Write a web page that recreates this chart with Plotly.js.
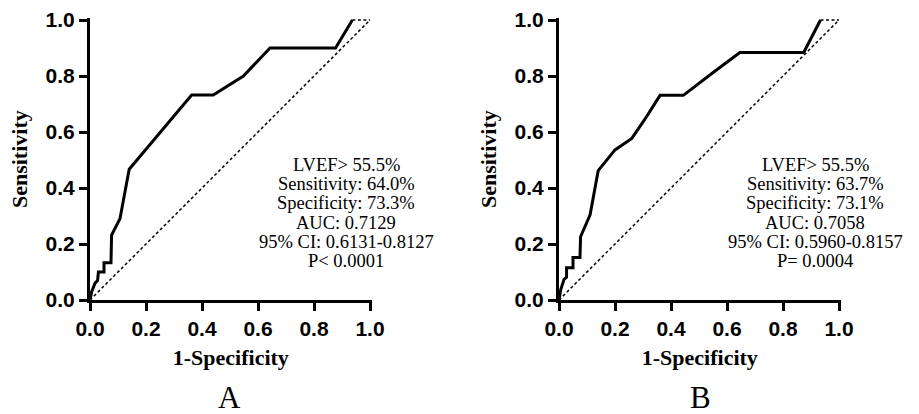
<!DOCTYPE html>
<html>
<head>
<meta charset="utf-8">
<script src="https://cdn.plot.ly/plotly-3.0.1.min.js"></script>
<style>html,body{margin:0;padding:0;background:#fff;}#chart{width:919px;height:414px;}</style>
</head>
<body>
<div id="chart"></div>
<script>
// Panel A ROC curve
const A_fpr = [0, 0.006, 0.018, 0.027, 0.030, 0.050, 0.050, 0.075, 0.077, 0.107, 0.140, 0.200, 0.289, 0.363, 0.440, 0.548, 0.643, 0.877, 0.937];
const A_tpr = [0, 0.030, 0.060, 0.069, 0.100, 0.100, 0.133, 0.133, 0.232, 0.290, 0.467, 0.538, 0.643, 0.732, 0.732, 0.800, 0.900, 0.900, 1.000];
const A_tail_fpr = [0.937, 1.0];
const A_tail_tpr = [1.0, 1.0];
// Panel B ROC curve
const B_fpr = [0, 0.006, 0.018, 0.027, 0.027, 0.050, 0.050, 0.075, 0.077, 0.111, 0.140, 0.200, 0.260, 0.305, 0.361, 0.444, 0.554, 0.646, 0.874, 0.934];
const B_tpr = [0, 0.036, 0.074, 0.081, 0.115, 0.115, 0.152, 0.152, 0.226, 0.304, 0.462, 0.536, 0.577, 0.643, 0.731, 0.731, 0.815, 0.884, 0.884, 1.000];
const B_tail_fpr = [0.934, 1.0];
const B_tail_tpr = [1.0, 1.0];
// Reference diagonal
const diag = [0, 1];
// Tick values / labels
const tickVals = [0, 0.2, 0.4, 0.6, 0.8, 1.0];
const tickText = ["0.0", "0.2", "0.4", "0.6", "0.8", "1.0"];
// Texts
const A_stats = ["LVEF> 55.5%", "Sensitivity: 64.0%", "Specificity: 73.3%", "AUC: 0.7129", "95% CI: 0.6131-0.8127", "P< 0.0001"];
const B_stats = ["LVEF> 55.5%", "Sensitivity: 63.7%", "Specificity: 73.1%", "AUC: 0.7058", "95% CI: 0.5960-0.8157", "P= 0.0004"];
const panelLabels = ["A", "B"];
const xTitle = "1-Specificity";
const yTitle = "Sensitivity";

const W = 919, H = 414;
const serif = "Liberation Serif, Times New Roman, serif";
const sans = "Liberation Sans, Arial, sans-serif";
const mainLine = {color: "#000", width: 3};
const dashLine = {color: "#000", width: 1.5, dash: "3px,2.5px"};

const traces = [
  {x: diag, y: diag, xaxis: "x", yaxis: "y", mode: "lines", line: dashLine, hoverinfo: "skip"},
  {x: A_tail_fpr, y: A_tail_tpr, xaxis: "x", yaxis: "y", mode: "lines", line: dashLine, hoverinfo: "skip"},
  {x: A_fpr, y: A_tpr, xaxis: "x", yaxis: "y", mode: "lines", line: mainLine},
  {x: diag, y: diag, xaxis: "x2", yaxis: "y2", mode: "lines", line: dashLine, hoverinfo: "skip"},
  {x: B_tail_fpr, y: B_tail_tpr, xaxis: "x2", yaxis: "y2", mode: "lines", line: dashLine, hoverinfo: "skip"},
  {x: B_fpr, y: B_tpr, xaxis: "x2", yaxis: "y2", mode: "lines", line: mainLine}
];

const rMax = 1.006;
const unit = 280;
function xDom(left) { return [left / W, (left + unit * rMax) / W]; }
const yDom = [(H - 300) / H, (H - (300 - unit * rMax)) / H];

function axisCommon(extra) {
  return Object.assign({
    range: [0, rMax],
    showgrid: false, zeroline: false,
    showline: true, linecolor: "#000", linewidth: 3,
    ticks: "outside", ticklen: 8, tickwidth: 3, tickcolor: "#000",
    tickmode: "array", tickvals: tickVals, ticktext: tickText,
    tickfont: {family: sans, size: 21, color: "#000", weight: 700},
    fixedrange: true
  }, extra);
}

const annotations = [];
function addStats(lines, xref) {
  lines.forEach((t, i) => {
    annotations.push({
      xref: xref, yref: "paper", x: 0.915, y: 1 - (165 + 19.2 * i) / H,
      xanchor: "center", yanchor: "middle", showarrow: false, text: t,
      font: {family: serif, size: 18.5, color: "#000"}
    });
  });
}
addStats(A_stats, "x");
addStats(B_stats, "x2");
const labelX = [229, 700];
panelLabels.forEach((t, i) => {
  annotations.push({
    xref: "paper", yref: "paper", x: labelX[i] / W, y: 0, yshift: -3,
    xanchor: "center", yanchor: "bottom", showarrow: false, text: t,
    font: {family: serif, size: 31, color: "#000"}
  });
});

const titleFont = {family: serif, size: 22, color: "#000", weight: 700};
const layout = {
  width: W, height: H,
  margin: {l: 0, r: 0, t: 0, b: 0},
  paper_bgcolor: "#fff", plot_bgcolor: "#fff",
  showlegend: false,
  xaxis: axisCommon({domain: xDom(90), anchor: "y", title: {text: xTitle, font: titleFont, standoff: 11}}),
  yaxis: axisCommon({domain: yDom, anchor: "x", title: {text: yTitle, font: titleFont, standoff: 12}}),
  xaxis2: axisCommon({domain: xDom(559), anchor: "y2", title: {text: xTitle, font: titleFont, standoff: 11}}),
  yaxis2: axisCommon({domain: yDom, anchor: "x2", title: {text: yTitle, font: titleFont, standoff: 12}}),
  annotations: annotations
};

Plotly.newPlot("chart", traces, layout, {displayModeBar: false, staticPlot: true});
</script>
</body>
</html>
